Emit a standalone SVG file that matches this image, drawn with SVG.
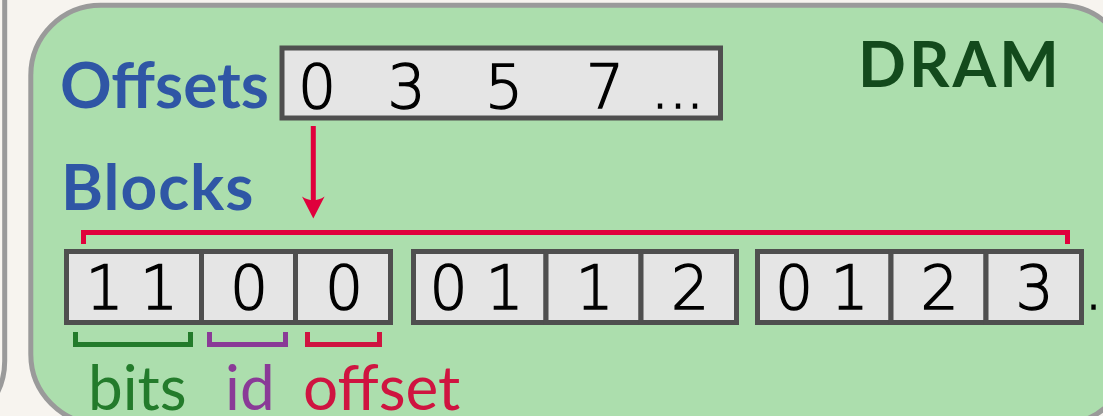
<svg xmlns="http://www.w3.org/2000/svg" width="1103" height="416" viewBox="0 0 1103 416">
  <style>
    .frame { stroke: #9a9a9a; stroke-width: 5; }
    .cell { fill: #e5e5e5; stroke: #4f4f4f; stroke-width: 5; }
    .digit { font-family: "DejaVu Sans", sans-serif; font-weight: 200; font-size: 60px; fill: #000; stroke: #000; stroke-width: 1.4; text-anchor: middle; }
    .head { font-family: Lato, "Open Sans", sans-serif; font-weight: bold; font-size: 64px; fill: #2f56a5; }
    .lbl { font-family: Lato, "Open Sans", sans-serif; font-size: 62px; }
    .br { fill: none; stroke-width: 5; stroke-linecap: butt; }
  </style>
  <rect x="0" y="0" width="1103" height="416" fill="#f7f4ef"/>
  <g id="left-panel">
    <rect class="frame" x="-300" y="-70" width="304.7" height="501" rx="70" fill="#f8f5f0"/>
  </g>
  <g id="dram">
    <rect class="frame" x="30.8" y="5.3" width="1099" height="419" rx="70" fill="#acdead"/>
    <text x="858" y="87" font-family="Lato, 'Open Sans', sans-serif" font-weight="bold" font-size="63px" letter-spacing="3" fill="#134a1c">DRAM</text>
  </g>
  <g id="offsets-label">
    <text class="head" x="60" y="108">Offsets</text>
  </g>
  <g id="offsets-array">
    <rect class="cell" x="282" y="48" width="438.5" height="70"/>
    <text class="digit" y="108" x="317 362 406.5 455 504 554 605 632 660 678 695">0 3 5 7 ...</text>
  </g>
  <g id="blocks-label">
    <text class="head" x="61" y="210" letter-spacing="1">Blocks</text>
  </g>
  <g id="block1">
    <rect class="cell" x="66.5" y="251.5" width="135" height="71"/>
    <rect class="cell" x="201.5" y="251.5" width="94" height="71"/>
    <rect class="cell" x="295.5" y="251.5" width="95" height="71"/>
    <text class="digit" y="309" x="104.5 132 159">1 1</text>
    <text class="digit" y="309" x="249">0</text>
    <text class="digit" y="309" x="344">0</text>
  </g>
  <g id="block2">
    <rect class="cell" x="413.5" y="251.5" width="132.5" height="71"/>
    <rect class="cell" x="546" y="251.5" width="95" height="71"/>
    <rect class="cell" x="641" y="251.5" width="95.5" height="71"/>
    <text class="digit" y="309" x="448.5 476 504.5">0 1</text>
    <text class="digit" y="309" x="594.5">1</text>
    <text class="digit" y="309" x="690">2</text>
  </g>
  <g id="block3">
    <rect class="cell" x="757.5" y="251.5" width="133.5" height="71"/>
    <rect class="cell" x="891" y="251.5" width="95" height="71"/>
    <rect class="cell" x="986" y="251.5" width="95.5" height="71"/>
    <text class="digit" y="309" x="794 822 849.5">0 1</text>
    <text class="digit" y="309" x="939.5">2</text>
    <text class="digit" y="309" x="1034.5">3</text>
    <text class="digit" y="309" x="1093.5" font-weight="bold">.</text>
  </g>
  <g id="field-labels">
    <text class="lbl" x="88" y="410" fill="#237b2b">bits</text>
    <text class="lbl" x="225" y="410" fill="#8a3a97">id</text>
    <text class="lbl" x="303" y="410" fill="#cf1440">offset</text>
  </g>
  <g id="connectors">
    <line x1="313.3" y1="126" x2="313.3" y2="204" stroke="#e0003c" stroke-width="5"/>
    <path d="M313.3 218.5 L302 196.5 Q313.3 204 324.6 196.5 Z" fill="#e0003c"/>
    <path class="br" d="M83.5 244 V232.5 H1067.5 V244" stroke="#e0003c"/>
    <path class="br" d="M75.5 332 V344.5 H190.5 V332" stroke="#237b2b"/>
    <path class="br" d="M209.5 332 V344.5 H285.5 V332" stroke="#8a3a97"/>
    <path class="br" d="M307.5 332 V344.5 H379.5 V332" stroke="#cf1440"/>
  </g>
</svg>
